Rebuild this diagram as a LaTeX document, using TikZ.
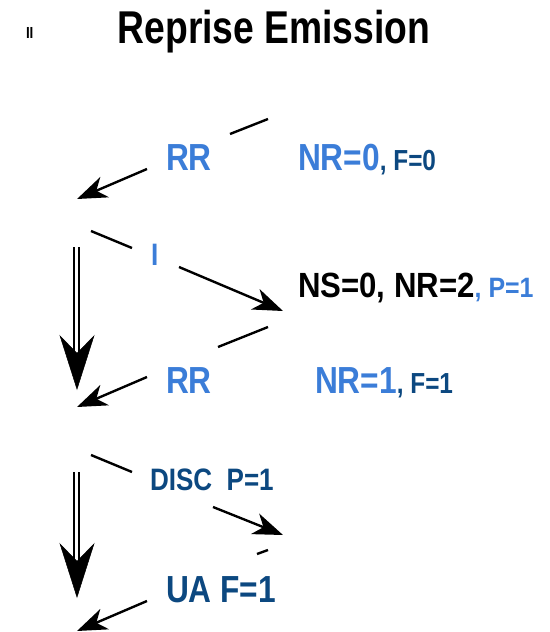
\documentclass[tikz,border=0pt]{standalone}
\usepackage{fontspec}
\setmainfont{Liberation Sans}[FakeStretch=0.84]
\newfontfamily\titlefont{Liberation Sans}[FakeStretch=0.81]
\usetikzlibrary{arrows.meta}
\definecolor{lblue}{RGB}{59,125,216}
\definecolor{dblue}{RGB}{12,72,128}
\newcommand{\fsz}[1]{\bfseries\fontsize{#1pt}{#1pt}\selectfont}
\begin{document}
\begin{tikzpicture}[x=1pt,y=-1pt,
  lbl/.style={anchor=base west, inner sep=0pt, outer sep=0pt},
  seg/.style={line width=2.4pt},
  sarrow/.style={line width=2.4pt, -{Stealth[length=30pt,width=22pt,inset=9pt]}},
  dline/.style={double, line width=2pt, double distance=3.5pt},
  bighead/.style={line width=0.5pt, -{Stealth[length=55pt,width=35pt,inset=18pt]}}]
\useasboundingbox (0,0) rectangle (549,632);
% texts
\node[anchor=base, inner sep=0pt] (title) at (274,43) {\titlefont\fsz{46}Reprise Emission};
\node[lbl] (ii) at (26,38) {\fsz{16}II};
\node[lbl, text=lblue] (rr1) at (166,170) {\fsz{37.7}RR};
\node[lbl] (nr0) at (298,170) {\color{lblue}\fsz{37.7}NR=0\color{dblue}\fsz{29}, F=0};
\node[lbl, text=lblue] (i) at (151,265) {\fsz{31}I};
\node[lbl] (ns) at (298,297) {\scalebox{1.06}[1]{\fsz{35}NS=0, NR=2\color{lblue}\fsz{28}, P=1}};
\node[lbl, text=lblue] (rr2) at (166,393) {\fsz{37.7}RR};
\node[lbl] (nr1) at (315,393) {\color{lblue}\fsz{37.7}NR=1\color{dblue}\fsz{29}, F=1};
\node[lbl, text=dblue] (disc) at (150,490) {\fsz{31}DISC\ \ P=1};
\node[lbl, text=dblue] (ua) at (166,602) {\fsz{37.7}UA F=1};
% coordinates
\coordinate (a1) at (230,134); \coordinate (a2) at (268,119);
\coordinate (b1) at (147,169); \coordinate (b2) at (77,199);
\coordinate (c1) at (91,231);  \coordinate (c2) at (132,248);
\coordinate (d1) at (179,267); \coordinate (d2) at (283,311);
\coordinate (e1) at (218,347); \coordinate (e2) at (268,327);
\coordinate (f1) at (147,377); \coordinate (f2) at (77,407);
\coordinate (g1) at (91,455);  \coordinate (g2) at (132,472);
\coordinate (h1) at (213,507); \coordinate (h2) at (283,535);
\coordinate (k1) at (257,554); \coordinate (k2) at (268,550);
\coordinate (m1) at (147,601); \coordinate (m2) at (77,631);
\coordinate (p1) at (76.5,247); \coordinate (p2) at (76.5,352);
\coordinate (p3) at (77,380);   \coordinate (p4) at (77,390);
\coordinate (q1) at (76.5,472); \coordinate (q2) at (76.5,560);
\coordinate (q3) at (77,588);   \coordinate (q4) at (77,598);
% connectors
\draw[seg] (a1) -- (a2);
\draw[sarrow] (b1) -- (b2);
\draw[seg] (c1) -- (c2);
\draw[sarrow] (d1) -- (d2);
\draw[seg] (e1) -- (e2);
\draw[sarrow] (f1) -- (f2);
\draw[seg] (g1) -- (g2);
\draw[sarrow] (h1) -- (h2);
\draw[seg] (k1) -- (k2);
\draw[sarrow] (m1) -- (m2);
\draw[dline] (p1) -- (p2);
\draw[bighead] (p3) -- (p4);
\draw[dline] (q1) -- (q2);
\draw[bighead] (q3) -- (q4);
\end{tikzpicture}
\end{document}
